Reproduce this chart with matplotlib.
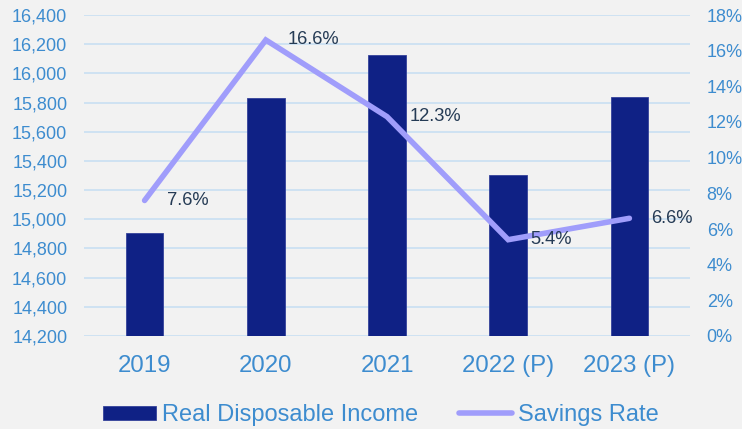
import matplotlib
matplotlib.use("Agg")
import matplotlib.pyplot as plt
from matplotlib.ticker import FuncFormatter, MultipleLocator

plt.rcParams['font.family'] = ['Liberation Sans', 'DejaVu Sans']

years = ["2019", "2020", "2021", "2022 (P)", "2023 (P)"]
income = [14905, 15830, 16125, 15305, 15835]
savings_rate = [7.6, 16.6, 12.3, 5.4, 6.6]

BG = "#f2f2f2"
BAR = "#0f2185"
LINE = "#a09dfb"
TICK = "#3d8ccf"
GRID = "#cfe2f3"
LABEL = "#253b55"

fig = plt.figure(figsize=(7.42, 4.29), dpi=100, facecolor=BG)
ax = fig.add_axes([84 / 742, 93 / 429, 606 / 742, 321 / 429])
ax.set_facecolor(BG)

x = list(range(len(years)))
bars = ax.bar(x, income, width=0.31, color=BAR, edgecolor="#34429a",
              linewidth=0.6, zorder=2, label="Real Disposable Income")
ax.set_xlim(-0.5, len(years) - 0.5)
ax.set_ylim(14200, 16400)
ax.yaxis.set_major_locator(MultipleLocator(200))
ax.yaxis.set_major_formatter(FuncFormatter(lambda v, p: f"{v:,.0f}"))
ax.grid(axis="y", color=GRID, linewidth=1.4, zorder=0)
ax.set_axisbelow(True)
ax.set_xticks(x)
ax.set_xticklabels(years)
ax.tick_params(axis="x", length=0, pad=14, labelsize=17.3, labelcolor=TICK)
ax.tick_params(axis="y", length=0, pad=12, labelsize=13, labelcolor=TICK)
for s in ax.spines.values():
    s.set_visible(False)

ax2 = ax.twinx()
ax2.set_ylim(0, 18)
ax2.yaxis.set_major_locator(MultipleLocator(2))
ax2.yaxis.set_major_formatter(FuncFormatter(lambda v, p: f"{v:.0f}%"))
ax2.tick_params(axis="y", length=0, pad=12, labelsize=13, labelcolor=TICK)
for s in ax2.spines.values():
    s.set_visible(False)
line, = ax2.plot(x, savings_rate, color=LINE, linewidth=4,
                 solid_capstyle="round", solid_joinstyle="miter",
                 zorder=3, label="Savings Rate")
for xi, v in zip(x, savings_rate):
    ax2.annotate(f"{v:.1f}%", (xi, v), xytext=(16, 0),
                 textcoords="offset points", ha="left", va="center",
                 fontsize=13.2, color=LABEL)

leg = fig.legend([bars, line], ["Real Disposable Income", "Savings Rate"],
                 loc="center", bbox_to_anchor=(381 / 742, 1 - 415 / 429), ncol=2,
                 frameon=False, fontsize=17, handlelength=2.25,
                 handleheight=0.55, handletextpad=0.25, columnspacing=1.74)
for t in leg.get_texts():
    t.set_color(TICK)

fig.savefig("out.png", dpi=100, facecolor=BG)
